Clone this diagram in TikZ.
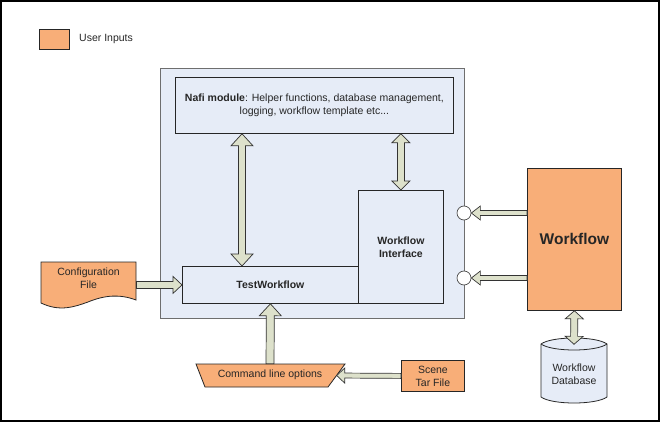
\documentclass[tikz,border=0pt]{standalone}
\usepackage{fontspec}
\setmainfont{Liberation Sans}
\usetikzlibrary{calc}
\definecolor{orng}{HTML}{F8AE78}
\definecolor{lblue}{HTML}{E6ECF7}
\definecolor{arrf}{HTML}{DDE1CB}
\definecolor{cgray}{HTML}{6E6E6E}
\tikzset{
  txt/.style={font=\fontsize{10.5}{13}\selectfont, align=center, inner sep=0pt, text=black!85},
  box/.style={txt, draw=black!85, line width=0.8pt, fill=lblue},
  bbox/.style={box, font=\fontsize{10.5}{13}\selectfont\bfseries},
  obox/.style={txt, draw=black!85, line width=0.8pt, fill=orng},
  shapeline/.style={draw=black!85, line width=0.8pt},
  barrow/.style={draw=black!80, line width=0.7pt, fill=arrf, line join=miter},
  port/.style={circle, draw=black!70, line width=0.7pt, fill=white, minimum size=14pt, inner sep=0pt},
}
% single block arrow: #1 half shaft, #2 half head, #3 head length, #4 from, #5 to (tip)
\newcommand\blockarrow[5]{%
\draw[barrow] let \p1=(#4), \p2=(#5), \n1={veclen(\x2-\x1,\y2-\y1)},
  \n2={(\x2-\x1)/\n1}, \n3={(\y2-\y1)/\n1} in
  ({\x1-#1*\n3},{\y1+#1*\n2}) --
  ({\x2-#3*\n2-#1*\n3},{\y2-#3*\n3+#1*\n2}) --
  ({\x2-#3*\n2-#2*\n3},{\y2-#3*\n3+#2*\n2}) --
  (\x2,\y2) --
  ({\x2-#3*\n2+#2*\n3},{\y2-#3*\n3-#2*\n2}) --
  ({\x2-#3*\n2+#1*\n3},{\y2-#3*\n3-#1*\n2}) --
  ({\x1+#1*\n3},{\y1-#1*\n2}) -- cycle;}
% double block arrow
\newcommand\dblockarrow[5]{%
\draw[barrow] let \p1=(#4), \p2=(#5), \n1={veclen(\x2-\x1,\y2-\y1)},
  \n2={(\x2-\x1)/\n1}, \n3={(\y2-\y1)/\n1} in
  (\x1,\y1) --
  ({\x1+#3*\n2-#2*\n3},{\y1+#3*\n3+#2*\n2}) --
  ({\x1+#3*\n2-#1*\n3},{\y1+#3*\n3+#1*\n2}) --
  ({\x2-#3*\n2-#1*\n3},{\y2-#3*\n3+#1*\n2}) --
  ({\x2-#3*\n2-#2*\n3},{\y2-#3*\n3+#2*\n2}) --
  (\x2,\y2) --
  ({\x2-#3*\n2+#2*\n3},{\y2-#3*\n3-#2*\n2}) --
  ({\x2-#3*\n2+#1*\n3},{\y2-#3*\n3-#1*\n2}) --
  ({\x1+#3*\n2+#1*\n3},{\y1+#3*\n3-#1*\n2}) --
  ({\x1+#3*\n2+#2*\n3},{\y1+#3*\n3-#2*\n2}) -- cycle;}
\begin{document}
\begin{tikzpicture}[x=1pt,y=-1pt]
\useasboundingbox (0,0) rectangle (660,422);
\draw[line width=1.3pt] (1,1) rectangle (659,421);

% legend
\node[obox, anchor=north west, minimum width=30pt, minimum height=20pt] (leg) at (39,29) {};
\node[txt, anchor=west] (legt) at (79,38.5) {User Inputs};

% main container
\node[draw=cgray, line width=1.3pt, fill=lblue, anchor=north west, minimum width=304pt, minimum height=250pt, inner sep=0pt] (cont) at (160,68) {};

\node[box, anchor=north west, minimum width=278pt, minimum height=56pt] (nafi) at (175,77) {};
\node[txt] (nafit) at (nafi.center) {\textbf{Nafi module}: Helper functions, database management,\\logging, workflow template etc...};

\node[bbox, anchor=north west, minimum width=176pt, minimum height=37pt] (tw) at (182,266) {TestWorkflow};
\node[bbox, anchor=north west, minimum width=85pt, minimum height=113pt] (wi) at (358,190) {Workflow\\Interface};

\node[port] (c1) at (464,213) {};
\node[port] (c2) at (464,278) {};

% workflow
\node[obox, anchor=north west, minimum width=94pt, minimum height=142pt, font=\fontsize{15.5}{18}\selectfont\bfseries] (wf) at (527,168) {Workflow};

% database
\draw[shapeline, fill=lblue] (541,344) -- (541,397) .. controls (552,405) and (596,405) .. (607,397)
  -- (607,344) .. controls (596,336) and (552,336) .. (541,344) -- cycle;
\draw[shapeline] (541,344) .. controls (552,352) and (596,352) .. (607,344);
\node[txt, minimum width=66pt, minimum height=65pt] (db) at (574,374) {Workflow\\Database};
\coordinate (dbtop) at ([yshift=-3pt]db.north);

% configuration file
\node[txt, anchor=north west, minimum width=95pt, minimum height=38pt] (cfgbox) at (41,262) {};
\draw[shapeline, fill=orng] (41,262) -- (136,262) -- (136,300)
  .. controls (120,294) and (105,295) .. (88,302)
  .. controls (74,307) and (60,312) .. (41,303) -- cycle;
\node[txt] (cfgt) at (88.5,278) {Configuration\\File};

% command line options
\node[txt, minimum width=149pt, minimum height=23pt] (cmd) at (270,375.5) {};
\draw[shapeline, fill=orng] (196,364) -- (345,364) -- (328,387) -- (205,387) -- cycle;
\node[txt] (cmdt) at (270,375) {Command line options};

% scene tar file
\node[obox, anchor=north west, minimum width=63pt, minimum height=31pt] (scene) at (401,360) {Scene\\Tar File};

% arrows
\coordinate (a1) at ([xshift=60pt]tw.north west);
\dblockarrow{3.5}{11}{12}{nafi.south -| a1}{a1}
\dblockarrow{3.5}{9}{9}{nafi.south -| wi.north}{wi.north}
\blockarrow{2.5}{7}{9}{wf.west |- c1}{c1.east}
\blockarrow{2.5}{7}{9}{wf.west |- c2}{c2.east}
\blockarrow{3.5}{8.5}{9}{cfgbox.east |- tw.west}{tw.west}
\blockarrow{4}{11}{12}{cmd.north}{tw.south}
\blockarrow{2.5}{7.5}{8}{scene.west}{[xshift=-8pt]cmd.east}
\dblockarrow{3.5}{9}{8}{wf.south}{dbtop}
\end{tikzpicture}
\end{document}
